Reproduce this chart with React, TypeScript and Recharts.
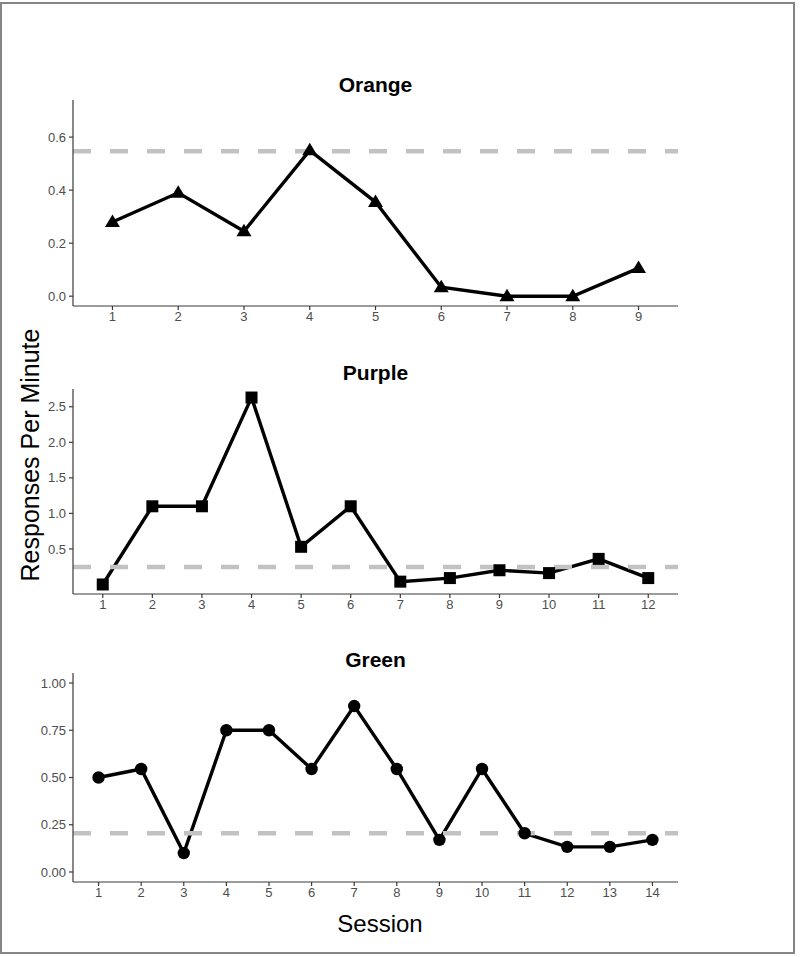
import React from "react";
import { LineChart, Line, XAxis, YAxis, ReferenceLine } from "recharts";

// ---------- data ----------
const orangeSessions = [1, 2, 3, 4, 5, 6, 7, 8, 9];
const orangeValues = [0.28, 0.39, 0.245, 0.55, 0.355, 0.034, 0.0, 0.0, 0.106];
const orangeBaseline = 0.547;
const orangeYTicks = [0, 0.2, 0.4, 0.6];

const purpleSessions = [1, 2, 3, 4, 5, 6, 7, 8, 9, 10, 11, 12];
const purpleValues = [0.0, 1.1, 1.1, 2.63, 0.53, 1.1, 0.04, 0.09, 0.2, 0.16, 0.36, 0.09];
const purpleBaseline = 0.245;
const purpleYTicks = [0.5, 1.0, 1.5, 2.0, 2.5];

const greenSessions = [1, 2, 3, 4, 5, 6, 7, 8, 9, 10, 11, 12, 13, 14];
const greenValues = [0.5, 0.545, 0.1, 0.75, 0.75, 0.545, 0.878, 0.545, 0.17, 0.545, 0.205, 0.133, 0.133, 0.17];
const greenBaseline = 0.205;
const greenYTicks = [0, 0.25, 0.5, 0.75, 1.0];

const titles = ["Orange", "Purple", "Green"];
const yAxisLabel = "Responses Per Minute";
const xAxisLabel = "Session";

const FONT = "'Liberation Sans', Arial, Helvetica, sans-serif";

type Shape = "triangle" | "square" | "circle";

function makeDot(shape: Shape) {
  return (props: any) => {
    const { cx, cy, index } = props;
    if (cx == null || cy == null) return <g key={`d-${index}`} />;
    if (shape === "triangle") {
      return (
        <path
          key={`d-${index}`}
          d={`M${cx},${cy - 7.5} L${cx - 7.5},${cy + 5} L${cx + 7.5},${cy + 5} Z`}
          fill="#000"
        />
      );
    }
    if (shape === "square") {
      return <rect key={`d-${index}`} x={cx - 6} y={cy - 6} width={12} height={12} fill="#000" />;
    }
    return <circle key={`d-${index}`} cx={cx} cy={cy} r={6.2} fill="#000" />;
  };
}

interface PanelProps {
  sessions: number[];
  values: number[];
  baseline: number;
  yTicks: number[];
  yDomain: [number, number];
  decimals: number;
  shape: Shape;
  plotTop: number;
  plotBottom: number;
}

function Panel({ sessions, values, baseline, yTicks, yDomain, decimals, shape, plotTop, plotBottom }: PanelProps) {
  const data = sessions.map((s, i) => ({ session: s, value: values[i] }));
  const n = sessions.length;
  const top = plotTop - 10;
  const xAxisH = 30;
  const height = plotBottom - top + xAxisH;
  const axisColor = "#3a3a3a";
  const tickStyle = { fontSize: 13, fill: "#4d4d4d", fontFamily: FONT };
  return (
    <div style={{ position: "absolute", left: 0, top }}>
      <LineChart
        width={800}
        height={height}
        data={data}
        margin={{ top: 10, right: 122, bottom: 0, left: 33 }}
      >
        <XAxis
          dataKey="session"
          type="number"
          domain={[0.4, n + 0.6]}
          ticks={sessions}
          interval={0}
          allowDataOverflow
          height={xAxisH}
          stroke={axisColor}
          strokeWidth={1.2}
          tickSize={4}
          tickMargin={2}
          tick={tickStyle}
          tickLine={{ stroke: axisColor }}
        />
        <YAxis
          type="number"
          domain={yDomain}
          ticks={yTicks}
          allowDataOverflow
          width={40}
          stroke={axisColor}
          strokeWidth={1.2}
          tickSize={4}
          tickMargin={3}
          tick={tickStyle}
          tickLine={{ stroke: axisColor }}
          tickFormatter={(v: number) => v.toFixed(decimals)}
        />
        <Line
          dataKey="value"
          type="linear"
          stroke="#000"
          strokeWidth={3.4}
          dot={makeDot(shape)}
          activeDot={false}
          isAnimationActive={false}
        />
        <ReferenceLine
          y={baseline}
          stroke="#c2c2c2"
          strokeWidth={4.5}
          strokeDasharray="18 19"
        />
      </LineChart>
    </div>
  );
}

const titleStyle = (top: number): React.CSSProperties => ({
  position: "absolute",
  left: 73,
  width: 605,
  top,
  textAlign: "center",
  fontFamily: FONT,
  fontWeight: "bold",
  fontSize: 21,
  lineHeight: "21px",
  color: "#000",
});

export default function App() {
  return (
    <div
      style={{
        position: "absolute",
        left: 0,
        top: 0,
        width: 800,
        height: 957,
        background: "#fff",
        overflow: "hidden",
      }}
    >
      <div
        style={{
          position: "absolute",
          left: 0,
          top: 2,
          width: 791,
          height: 948,
          border: "2px solid #858585",
        }}
      />
      <div style={titleStyle(74)}>{titles[0]}</div>
      <div style={titleStyle(362)}>{titles[1]}</div>
      <div style={titleStyle(649)}>{titles[2]}</div>

      <Panel
        sessions={orangeSessions}
        values={orangeValues}
        baseline={orangeBaseline}
        yTicks={orangeYTicks}
        yDomain={[-0.037, 0.74]}
        decimals={1}
        shape="triangle"
        plotTop={100}
        plotBottom={306}
      />
      <Panel
        sessions={purpleSessions}
        values={purpleValues}
        baseline={purpleBaseline}
        yTicks={purpleYTicks}
        yDomain={[-0.134, 2.75]}
        decimals={1}
        shape="square"
        plotTop={389}
        plotBottom={594}
      />
      <Panel
        sessions={greenSessions}
        values={greenValues}
        baseline={greenBaseline}
        yTicks={greenYTicks}
        yDomain={[-0.053, 1.053]}
        decimals={2}
        shape="circle"
        plotTop={673}
        plotBottom={882}
      />

      <div
        style={{
          position: "absolute",
          left: -120,
          top: 440,
          width: 300,
          height: 30,
          lineHeight: "30px",
          textAlign: "center",
          fontFamily: FONT,
          fontSize: 25,
          color: "#000",
          transform: "rotate(-90deg)",
          transformOrigin: "center",
          whiteSpace: "nowrap",
        }}
      >
        {yAxisLabel}
      </div>
      <div
        style={{
          position: "absolute",
          left: 180,
          top: 912,
          width: 400,
          textAlign: "center",
          fontFamily: FONT,
          fontSize: 24,
          lineHeight: "24px",
          color: "#000",
        }}
      >
        {xAxisLabel}
      </div>
    </div>
  );
}
